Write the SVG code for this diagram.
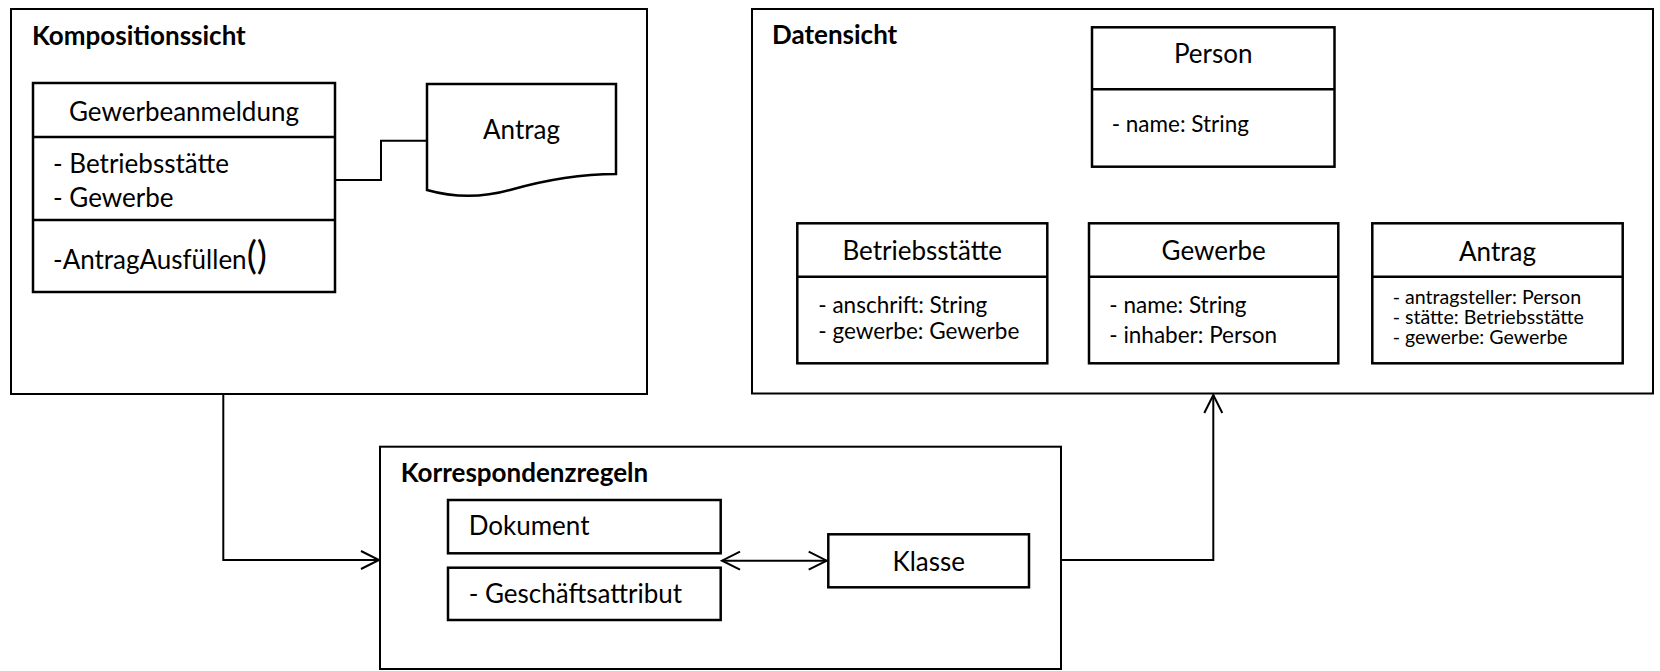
<svg xmlns="http://www.w3.org/2000/svg" width="1660" height="671" viewBox="0 0 1660 671">
  <style>
    .frame { fill: #ffffff; stroke: #000000; stroke-width: 2; }
    .box { fill: #ffffff; stroke: #000000; stroke-width: 2.5; }
    .sep { stroke: #000000; stroke-width: 2.5; fill: none; }
    .wire { fill: none; stroke: #000000; stroke-width: 2; }
    text { font-family: Lato, "Open Sans", sans-serif; fill: #000000; }
    .title { font-weight: bold; font-size: 26px; }
    .name { font-size: 26px; text-anchor: middle; }
    .attr { font-size: 26px; }
    .field { font-size: 22.5px; }
    .small { font-size: 19.6px; }
  </style>
  <defs>
    <marker id="open-arrow" markerUnits="userSpaceOnUse" markerWidth="24" markerHeight="24" viewBox="-20 -12 24 24" refX="0" refY="0" orient="auto-start-reverse">
      <path d="M-18,-9 L0,0 L-18,9" fill="none" stroke="#000000" stroke-width="2"/>
    </marker>
  </defs>

  <!-- Kompositionssicht -->
  <g id="kompositionssicht">
    <rect class="frame" x="11" y="9" width="636" height="385"/>
    <text class="title" x="32" y="45">Kompositionssicht</text>
  </g>

  <g id="gewerbeanmeldung">
    <rect class="box" x="33" y="83" width="302" height="209"/>
    <line class="sep" x1="33" y1="137" x2="335" y2="137"/>
    <line class="sep" x1="33" y1="220" x2="335" y2="220"/>
    <text class="name" x="184" y="120.7">Gewerbeanmeldung</text>
    <text class="attr" x="53" y="173.3">- Betriebsstätte</text>
    <text class="attr" x="53" y="206.7">- Gewerbe</text>
    <text class="attr" x="53" y="269">-AntragAusfüllen<tspan font-size="38px">()</tspan></text>
  </g>

  <g id="antrag-dokument">
    <path class="box" d="M427,84 H616 V174 C580,174 545,180 510,190 C485,197 455,198 427,190 Z"/>
    <text class="name" x="521.5" y="139">Antrag</text>
  </g>

  <!-- Datensicht -->
  <g id="datensicht">
    <rect class="frame" x="752" y="9" width="901" height="384.5"/>
    <text class="title" x="772" y="44.3">Datensicht</text>
  </g>

  <g id="person">
    <rect class="box" x="1092" y="27.3" width="242.5" height="139.4"/>
    <line class="sep" x1="1092" y1="89.3" x2="1334.5" y2="89.3"/>
    <text class="name" x="1213.2" y="62.7">Person</text>
    <text class="field" x="1111.7" y="131.7">- name: String</text>
  </g>

  <g id="betriebsstaette">
    <rect class="box" x="797.3" y="223.3" width="250" height="140"/>
    <line class="sep" x1="797.3" y1="276.7" x2="1047.3" y2="276.7"/>
    <text class="name" x="922.3" y="260">Betriebsstätte</text>
    <text class="field" x="818.3" y="313.3">- anschrift: String</text>
    <text class="field" x="818.3" y="339.3">- gewerbe: Gewerbe</text>
  </g>

  <g id="gewerbe">
    <rect class="box" x="1089" y="223.3" width="249.3" height="140"/>
    <line class="sep" x1="1089" y1="276.7" x2="1338.3" y2="276.7"/>
    <text class="name" x="1213.7" y="260">Gewerbe</text>
    <text class="field" x="1109.3" y="313.3">- name: String</text>
    <text class="field" x="1109.3" y="342.5">- inhaber: Person</text>
  </g>

  <g id="antrag">
    <rect class="box" x="1372.3" y="223.3" width="250.4" height="140"/>
    <line class="sep" x1="1372.3" y1="276.7" x2="1622.7" y2="276.7"/>
    <text class="name" x="1497.5" y="261">Antrag</text>
    <text class="small" x="1392.7" y="304.3">- antragsteller: Person</text>
    <text class="small" x="1392.7" y="324.3">- stätte: Betriebsstätte</text>
    <text class="small" x="1392.7" y="344.3">- gewerbe: Gewerbe</text>
  </g>

  <!-- Korrespondenzregeln -->
  <g id="korrespondenzregeln">
    <rect class="frame" x="380" y="446.7" width="681" height="222.3"/>
    <text class="title" x="400.7" y="481.7">Korrespondenzregeln</text>
  </g>

  <g id="dokument">
    <rect class="box" x="448" y="500" width="272.7" height="53.3"/>
    <text class="attr" x="468.7" y="535">Dokument</text>
  </g>

  <g id="geschaeftsattribut">
    <rect class="box" x="448" y="567.7" width="272.7" height="52.3"/>
    <text class="attr" x="468.7" y="602.7">- Geschäftsattribut</text>
  </g>

  <g id="klasse">
    <rect class="box" x="828.3" y="534.3" width="200.7" height="53"/>
    <text class="name" x="928.7" y="571">Klasse</text>
  </g>

  <!-- Connectors -->
  <g id="connectors">
    <polyline class="wire" points="335,180 381,180 381,140.7 427,140.7"/>
    <polyline class="wire" points="223.3,394 223.3,560 379,560" marker-end="url(#open-arrow)"/>
    <line class="wire" x1="722" y1="560.7" x2="826.7" y2="560.7" marker-start="url(#open-arrow)" marker-end="url(#open-arrow)"/>
    <polyline class="wire" points="1061,560 1213.3,560 1213.3,395" marker-end="url(#open-arrow)"/>
  </g>
</svg>
